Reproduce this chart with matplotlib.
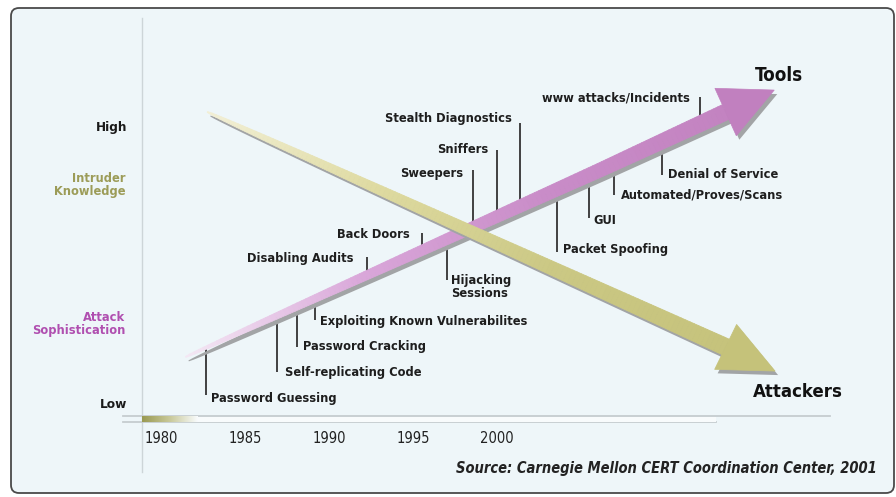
import numpy as np
import matplotlib
matplotlib.use('Agg')
import matplotlib.pyplot as plt
from matplotlib import patches, transforms
from matplotlib.collections import PolyCollection
from matplotlib.colors import LinearSegmentedColormap

plt.rcParams['font.family'] = ['DejaVu Sans']
plt.rcParams['font.stretch'] = 'condensed'

# --- data (x in years, y on a 0 = Low .. 10 = High scale) ---
year_ticks = [1980, 1985, 1990, 1995, 2000]

tools_x = [1982.6, 2007.3, 2014.8]
tools_y = [1.73, 8.45, 10.54]
tools_tip = (2017.7, 11.33)

attackers_x = [1983.9, 2014.8]
attackers_y = [10.54, 2.09]
attackers_tip = (2017.75, 1.22)

events = ['Password Guessing', 'Self-replicating Code', 'Password Cracking',
          'Exploiting Known Vulnerabilites', 'Disabling Audits', 'Back Doors',
          'Hijacking\nSessions', 'Sweepers', 'Sniffers', 'Stealth Diagnostics',
          'Packet Spoofing', 'GUI', 'Automated/Proves/Scans', 'Denial of Service',
          'www attacks/Incidents']
event_year = [1983.8, 1988.05, 1989.25, 1990.3, 1993.4, 1996.7, 1998.2, 1999.75,
              2001.15, 2002.55, 2004.75, 2006.65, 2008.15, 2011.0, 2013.25]
event_end = [0.36, 1.19, 2.09, 3.06, 5.32, 6.19, 4.5, 8.45, 9.17, 10.14,
             5.5, 6.73, 7.55, 8.27, 11.08]
# label offsets from tick end (pixels: dx, dy downward)
label_dx = [5, 8, 6, 5, -13, -12, 4, -10, -8, -8, 6, 4, 7, 6, -10]
label_dy = [4, 1, 0, 2, 1, 2, 7, 3, -1, -5, -3, 3, 0, -1, 1]

fig = plt.figure(figsize=(8.96, 4.97), dpi=100)
fig.patch.set_facecolor('white')
ax = fig.add_axes([0, 0, 1, 1])
ax.set_xlim(1971.53, 2024.96)
ax.set_ylim(-3.31, 14.57)
ax.set_autoscale_on(False)
ax.axis('off')

# frame
frame = patches.FancyBboxPatch((11, 4), 883, 485,
                               boxstyle='round,pad=0,rounding_size=8',
                               transform=transforms.IdentityTransform(),
                               facecolor='#eef6f9', edgecolor='#4a4a4a',
                               lw=1.3, zorder=0)
ax.add_patch(frame)

# axis decoration
ax.plot([1980, 1980], [-2.41, 13.92], color='#cdd5d8', lw=1, zorder=1)
ax.plot([1978.87, 2021.0], [-0.40, -0.40], color='#c6cdd0', lw=1.3, zorder=1)
ax.plot([1978.87, 2014.2], [-0.62, -0.62], color='#c6cdd0', lw=1.3, zorder=1)
ax.fill_between([1980, 2014.2], -0.60, -0.42, color='#f8fbfc', lw=0, zorder=1)
grad = np.linspace(0, 1, 100).reshape(1, -1)
ax.imshow(grad, extent=[1980, 1983.3, -0.60, -0.42], aspect='auto', zorder=1.5,
          cmap=LinearSegmentedColormap.from_list('bar', ['#9a9a52', '#c9c99a', '#f8fbfc']))
ax.set_xlim(1971.53, 2024.96)
ax.set_ylim(-3.31, 14.57)

fs = 9.2
for yr in year_ticks:
    ax.annotate(str(yr), (yr, -1.19), xytext=(3, 0), textcoords='offset pixels',
                ha='left', va='center', fontsize=10.5, color='#222222')

ax.text(1979.1, 10, 'High', ha='right', va='center', fontsize=fs + 0.5,
        fontweight='bold', color='#1a1a1a')
ax.text(1979.1, 0, 'Low', ha='right', va='center', fontsize=fs + 0.5,
        fontweight='bold', color='#1a1a1a')
ax.text(1979.0, 7.91, 'Intruder\nKnowledge', ha='right', va='center', fontsize=fs,
        fontweight='bold', color='#9c9c58', linespacing=0.95)
ax.text(1979.0, 2.91, 'Attack\nSophistication', ha='right', va='center', fontsize=fs,
        fontweight='bold', color='#b04fb0', linespacing=0.95)


def arrow(xs, ys, tip, wmax, hw, colors, head_color, z):
    to_px = ax.transData.transform
    to_data = ax.transData.inverted().transform
    P = to_px(np.column_stack([xs, ys]))
    seg = np.hypot(*np.diff(P, axis=0).T)
    cum = np.concatenate([[0], np.cumsum(seg)])
    s = np.linspace(0, cum[-1], 121)
    pts = np.column_stack([np.interp(s, cum, P[:, 0]), np.interp(s, cum, P[:, 1])])
    d = np.gradient(pts, axis=0)
    d /= np.hypot(d[:, 0], d[:, 1])[:, None]
    n = np.column_stack([-d[:, 1], d[:, 0]])
    t = s / cum[-1]
    w = 1 + (wmax - 1) * t ** 0.6
    top = pts + n * w[:, None] / 2
    bot = pts - n * w[:, None] / 2
    B = P[-1]
    T = to_px(np.array([tip]))[0]
    hd = (T - B) / np.hypot(*(T - B))
    hn = np.array([-hd[1], hd[0]])
    head = np.array([B + hn * hw, T, B - hn * hw])
    outline = np.vstack([top, head, bot[::-1]])
    shadow = outline + np.array([3, -4])
    ax.add_patch(patches.Polygon(to_data(shadow), closed=True, facecolor='#a2a4a6',
                                 edgecolor='none', zorder=z))
    cmap = LinearSegmentedColormap.from_list('a', colors)
    quads = [to_data(np.array([top[i], top[i + 1], bot[i + 1], bot[i]]))
             for i in range(len(pts) - 1)]
    cols = cmap((t[:-1] + t[1:]) / 2)
    ax.add_collection(PolyCollection(quads, facecolors=cols, edgecolors=cols,
                                     linewidths=0.6, zorder=z + 0.1))
    ax.add_patch(patches.Polygon(to_data(head), closed=True, facecolor=head_color,
                                 edgecolor=head_color, lw=0.5, zorder=z + 0.2))


def tools_level(x):
    return np.interp(x, tools_x + [tools_tip[0]], tools_y + [tools_tip[1]])


# event ticks and labels
for name, yr, end, dx, dy in zip(events, event_year, event_end, label_dx, label_dy):
    ax.plot([yr, yr], [end, tools_level(yr)], color='#333333', lw=1.3,
            zorder=3, solid_capstyle='butt')
    ax.annotate(name, (yr, end), xytext=(dx, -dy), textcoords='offset pixels',
                ha='left' if dx > 0 else 'right', va='center', fontsize=fs,
                fontweight='bold', color='#1e1e1e', linespacing=0.95, zorder=8)

arrow(tools_x, tools_y, tools_tip, 16, 26,
      ['#f4e8f4', '#d9a6d9', '#c98cc8', '#c383c1'], '#c180bf', 4)
arrow(attackers_x, attackers_y, attackers_tip, 17, 25,
      ['#f2efd6', '#dedaa0', '#cbc884', '#c6c37c'], '#c5c27a', 6)

ax.text(2017.95, 11.87, 'Tools', ha='center', va='center', fontsize=13.5,
        fontweight='bold', color='#111111')
ax.text(2019.1, 0.47, 'Attackers', ha='center', va='center', fontsize=13.3,
        fontweight='bold', color='#111111')
ax.text(2023.8, -2.27, 'Source: Carnegie Mellon CERT Coordination Center, 2001',
        ha='right', va='center', fontsize=10.5, fontweight='bold',
        fontstyle='italic', color='#222222')

fig.savefig('out.png', dpi=100, facecolor='white')
